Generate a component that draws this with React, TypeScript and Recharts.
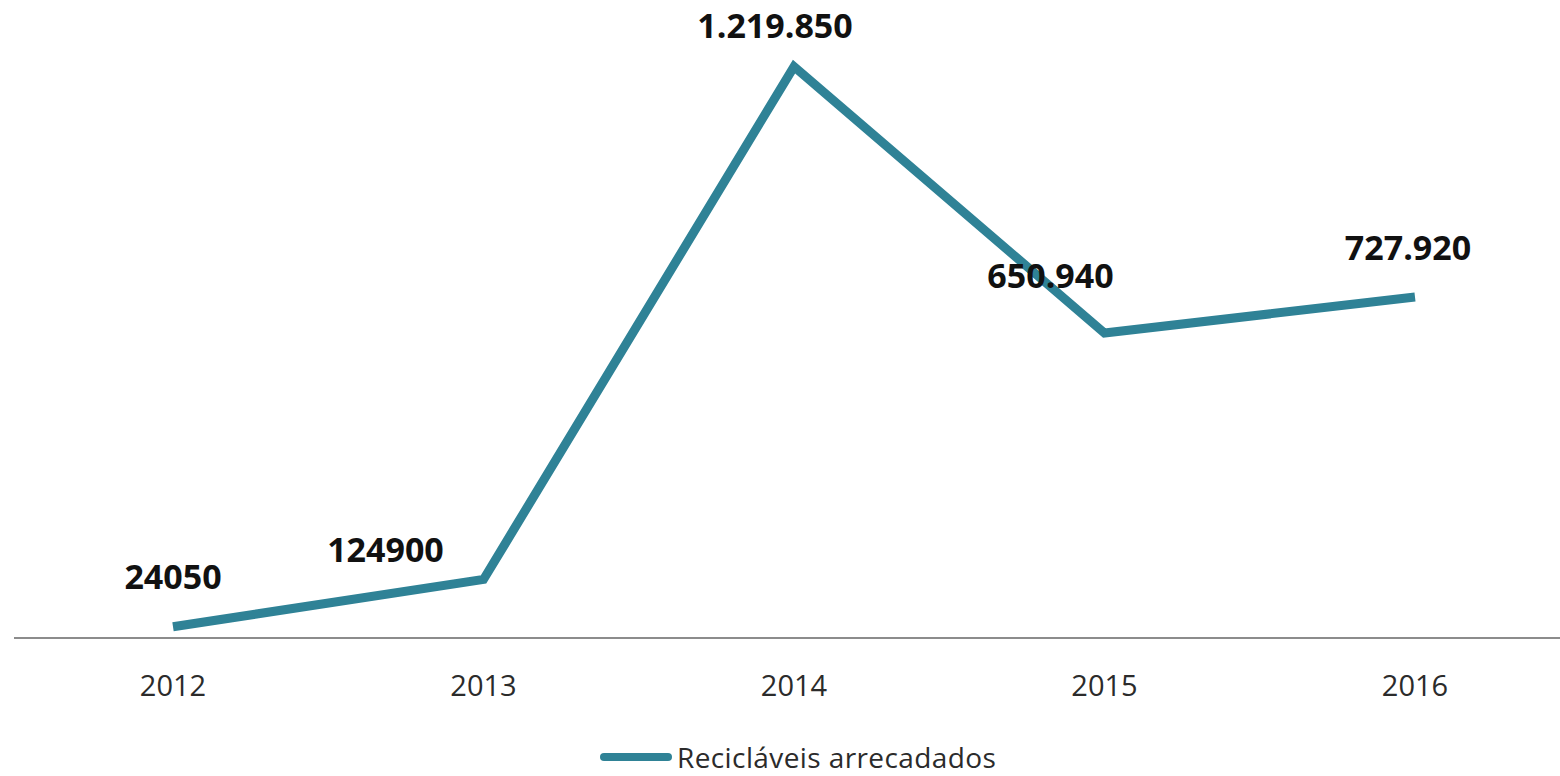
import React from 'react'
import { LineChart, Line, XAxis, YAxis, Legend } from 'recharts'

// Recicláveis arrecadados por ano
const YEARS = ['2012', '2013', '2014', '2015', '2016']
const VALUES = [24050, 124900, 1219850, 650940, 727920]
const VALUE_LABELS = ['24050', '124900', '1.219.850', '650.940', '727.920']
const SERIES_NAME = 'Recicláveis arrecadados'

const LINE_COLOR = '#2f8296'
const FONT = '"Open Sans", "Liberation Sans", sans-serif'
const LABEL_SIZE = 34

// deslocamento dos rótulos em relação ao ponto (px)
const LABEL_SHIFT = [
  [0, -50],
  [-98, -30],
  [-19, -41],
  [-54, -57],
  [-7, -49],
]

const data = YEARS.map((year, i) => ({ year, value: VALUES[i], label: VALUE_LABELS[i] }))

const renderLabel = (props: any) => {
  const { x, y, index } = props
  const [dx, dy] = LABEL_SHIFT[index] || [0, -40]
  return (
    <text
      x={x + dx}
      y={y + dy + LABEL_SIZE * 0.357}
      textAnchor="middle"
      fontSize={LABEL_SIZE}
      fontWeight="bold"
      fontFamily={FONT}
      fill="#111"
    >
      {data[index].label}
    </text>
  )
}

const renderLegend = () => (
  <div style={{ height: 48, paddingTop: 10, boxSizing: 'border-box' }}>
    <div style={{ display: 'flex', alignItems: 'center', height: 38, paddingLeft: 600 }}>
      <span
        style={{
          display: 'inline-block',
          width: 72,
          height: 8,
          borderRadius: 4,
          background: LINE_COLOR,
          marginRight: 5,
        }}
      />
      <span style={{ fontFamily: FONT, fontSize: 28, color: '#2b2b2b', letterSpacing: 0.4 }}>
        {SERIES_NAME}
      </span>
    </div>
  </div>
)

export default function App() {
  return (
    <div style={{ position: 'absolute', left: 0, top: 0, background: '#fff' }}>
      <LineChart
        width={1560}
        height={776}
        data={data}
        margin={{ top: 29, right: 0, left: 14, bottom: 0 }}
        style={{ fontFamily: FONT }}
      >
        <XAxis
          dataKey="year"
          padding={{ left: 159, right: 145 }}
          height={90}
          tickSize={0}
          tickMargin={37}
          axisLine={{ stroke: '#8c8c8c', strokeWidth: 2 }}
          tick={{ fill: '#2b2b2b', fontSize: 29, fontFamily: FONT }}
        />
        <YAxis hide domain={[0, 1300000]} />
        <Legend
          verticalAlign="bottom"
          wrapperStyle={{ left: 0, width: 1560 }}
          content={renderLegend}
        />
        <Line
          type="linear"
          dataKey="value"
          name={SERIES_NAME}
          stroke={LINE_COLOR}
          strokeWidth={9}
          dot={false}
          activeDot={false}
          label={renderLabel}
          isAnimationActive={false}
        />
      </LineChart>
    </div>
  )
}
